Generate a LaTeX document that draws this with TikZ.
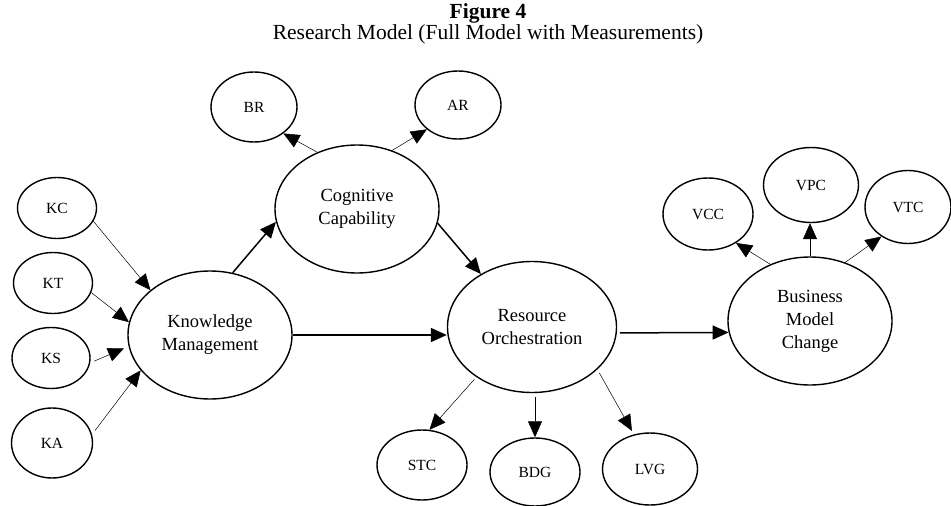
\documentclass[tikz,border=0pt]{standalone}
\usepackage{fontspec}
\setmainfont{Liberation Serif}
\usetikzlibrary{shapes.geometric, arrows.meta, positioning, calc}
\tikzstyle{construct} = [ellipse, draw=black, line width=1.4pt, minimum width=164pt, minimum height=128pt, inner sep=0pt, align=center, font=\fontsize{18.5}{23}\selectfont]
\tikzstyle{indicator} = [ellipse, draw=black, line width=1.4pt, minimum width=86pt, minimum height=70pt, inner sep=0pt, font=\fontsize{15.5}{18}\selectfont]
\tikzstyle{mainarrow} = [line width=1.5pt, -{Triangle[length=16pt, width=14pt]}]
\tikzstyle{measarrow} = [line width=0.5pt, -{Triangle[length=16pt, width=14pt]}]

\begin{document}
\begin{tikzpicture}[x=1pt, y=-1pt]
\useasboundingbox (0,0) rectangle (951,506);

% Caption
\node (figno) at (488,13) {\fontsize{21.5}{24}\selectfont\bfseries Figure 4};
\node (figtitle) [below=-5pt of figno] {\fontsize{21.5}{24}\selectfont Research Model (Full Model with Measurements)};

% Latent constructs
\node (km) [construct] at (210,335) {Knowledge\\Management};
\node (cc) [construct] at (357,209) {Cognitive\\Capability};
\node (ro) [construct, minimum width=169pt, minimum height=131pt] at (532,327) {Resource\\Orchestration};
\node (bmc) [construct] at (810,321) {Business\\Model\\Change};

% Indicators
\node (kc) [indicator, minimum width=79pt, minimum height=61pt] at (57,208) {KC};
\node (kt) [indicator, minimum width=79pt, minimum height=61pt] at (53,283) {KT};
\node (ks) [indicator, minimum width=78pt, minimum height=61pt] at (51,358) {KS};
\node (ka) [indicator, minimum width=81pt, minimum height=70pt] at (52,443) {KA};
\node (br) [indicator] at (254,107) {BR};
\node (ar) [indicator, minimum height=68pt] at (458,105) {AR};
\node (stc) [indicator, minimum width=90pt] at (422,465) {STC};
\node (bdg) [indicator, minimum width=90pt, minimum height=68pt] at (535,472) {BDG};
\node (lvg) [indicator, minimum width=95pt, minimum height=72pt] at (650,469) {LVG};
\node (vcc) [indicator, minimum width=90pt, minimum height=72pt] at (708,214) {VCC};
\node (vpc) [indicator, minimum width=95pt, minimum height=75pt] at (811,185) {VPC};
\node (vtc) [indicator, minimum height=73pt] at (908,207) {VTC};

% Structural paths
\draw [mainarrow] (km.70) -- (cc.189);
\draw [mainarrow] (cc.-10) -- (ro.134);
\draw [mainarrow] (km.east) -- (km.east -| ro.west);
\draw [mainarrow, shorten <=3pt] (ro.-4) -- (bmc.188);

% Measurement paths
\draw [measarrow] (kc.-20) -- (km.143);
\draw [measarrow] (kt.-14) -- (km.171);
\draw [measarrow, shorten <=4pt, shorten >=5pt] (ks.-7) -- (km.188);
\draw [measarrow, shorten <=5pt] (ka.12) -- (km.207);
\draw [measarrow] (cc.125) -- (br.-42);
\draw [measarrow] (cc.59) -- (ar.218);
\draw [measarrow, shorten <=3pt] (ro.222) -- (stc.78);
\draw [measarrow, shorten <=4pt] (bdg.north |- ro.south) -- (bdg.north);
\draw [measarrow, shorten <=4pt, shorten >=4pt] (ro.-33) -- (lvg.115);
\draw [measarrow] (bmc.125) -- (vcc.-46);
\draw [measarrow] (bmc.north) -- (bmc.north |- vpc.south);
\draw [measarrow] (bmc.59) -- (vtc.228);

\end{tikzpicture}
\end{document}
